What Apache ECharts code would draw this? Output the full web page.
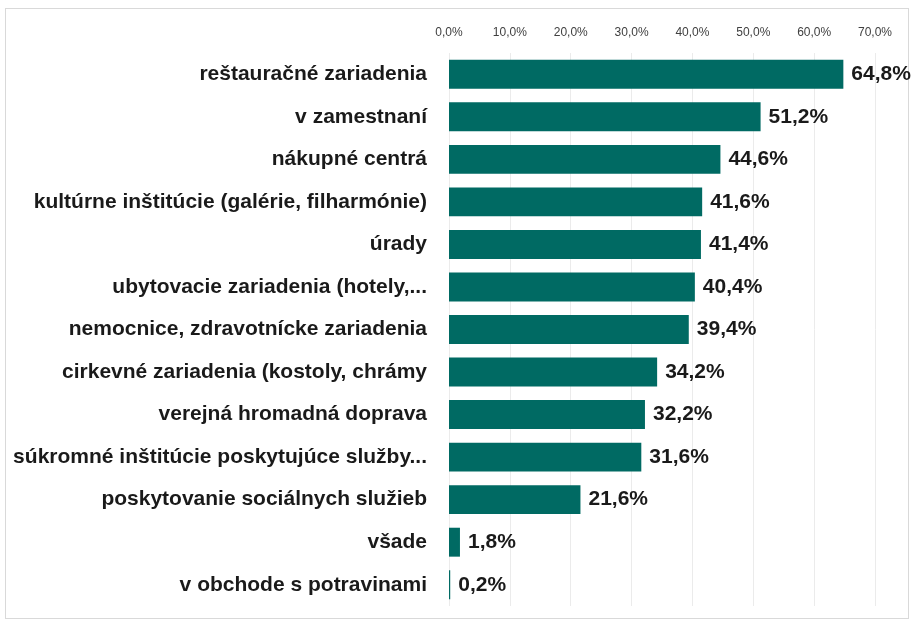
<!DOCTYPE html>
<html>
<head>
<meta charset="utf-8">
<script src="https://cdn.jsdelivr.net/npm/echarts@6/dist/echarts.min.js"></script>
<style>
  html, body { margin: 0; padding: 0; background: #fff; }
  #frame { position: absolute; left: 5px; top: 8px; width: 902px; height: 609px; border: 1px solid #d9d9d9; }
  #chart { position: absolute; left: 0; top: 0; width: 912px; height: 621px; }
</style>
</head>
<body>
<div id="frame"></div>
<div id="chart"></div>
<script>
// kategórie zhora nadol
var categories = [
    'reštauračné zariadenia',
    'v zamestnaní',
    'nákupné centrá',
    'kultúrne inštitúcie (galérie, filharmónie)',
    'úrady',
    'ubytovacie zariadenia (hotely,...',
    'nemocnice, zdravotnícke zariadenia',
    'cirkevné zariadenia (kostoly, chrámy',
    'verejná hromadná doprava',
    'súkromné inštitúcie poskytujúce služby...',
    'poskytovanie sociálnych služieb',
    'všade',
    'v obchode s potravinami'
]
var values = [64.8, 51.2, 44.6, 41.6, 41.4, 40.4, 39.4, 34.2, 32.2, 31.6, 21.6, 1.8, 0.2]
var axisTicks = [0, 10, 20, 30, 40, 50, 60, 70]

function pct(v, d) {
    return v.toFixed(d).replace('.', ',') + '%'
}

var chart = echarts.init(document.getElementById('chart'))
var font = '"Liberation Sans", sans-serif'

chart.setOption({
    animation: false,
    grid: { left: 449, right: 37, top: 53, bottom: 15, containLabel: false },
    xAxis: {
        type: 'value',
        position: 'top',
        min: axisTicks[0],
        max: axisTicks[axisTicks.length - 1],
        interval: 10,
        axisLine: { show: false },
        axisTick: { show: false },
        axisLabel: {
            margin: 14,
            color: '#404040',
            fontSize: 12,
            fontFamily: font,
            formatter: function (v) { return pct(v, 1) }
        },
        splitLine: { show: true, lineStyle: { color: '#ebebeb', width: 1 } }
    },
    yAxis: {
        type: 'category',
        inverse: true,
        data: categories,
        axisLine: { show: false },
        axisTick: { show: false },
        axisLabel: {
            margin: 22,
            color: '#1a1a1a',
            fontSize: 21,
            fontWeight: 'bold',
            fontFamily: font
        }
    },
    series: [{
        type: 'bar',
        data: values,
        barCategoryGap: '32%',
        itemStyle: { color: '#006A63' },
        label: {
            show: true,
            position: 'right',
            distance: 8,
            color: '#1a1a1a',
            fontSize: 21,
            fontWeight: 'bold',
            fontFamily: font,
            formatter: function (p) { return pct(p.value, 1) }
        }
    }]
})
</script>
</body>
</html>
